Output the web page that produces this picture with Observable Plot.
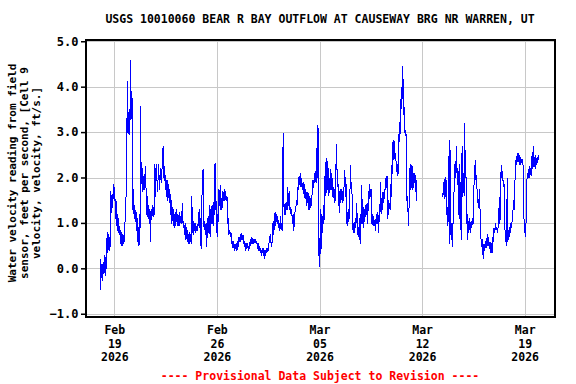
<!DOCTYPE html>
<html><head><meta charset="utf-8">
<script src="https://cdn.jsdelivr.net/npm/d3@7"></script>
<script src="https://cdn.jsdelivr.net/npm/@observablehq/plot@0.6"></script>
<style>
html,body{margin:0;padding:0;background:#fff;}
#chart{width:576px;height:384px;}
</style></head><body><div id="chart"></div>
<script>
const title = "USGS 10010060 BEAR R BAY OUTFLOW AT CAUSEWAY BRG NR WARREN, UT";
const yLabelLines = ["Water velocity reading from field", "sensor, feet per second, [Cell 9", "velocity, velocity, ft/s.]"];
const caption = "---- Provisional Data Subject to Revision ----";
const startTime = "2026-02-18T00:00:00Z";
const xDomain = ["2026-02-17", "2026-03-21"];
const xTicks = ["2026-02-19", "2026-02-26", "2026-03-05", "2026-03-12", "2026-03-19"];
const yDomain = [-1.05, 5.05];
const yTicks = [-1, 0, 1, 2, 3, 4, 5];

// hours since startTime
const hours = [
0.5,1.0,1.6,2.7,3.7,4.8,6.0,7.0,8.1,9.2,10.3,11.4,12.4,13.5,14.6,15.7,16.8,17.3,18.4,19.5,20.6,21.7,22.8,23.9,25.0,26.0,27.1,28.2,29.3,30.4,31.5,32.6,33.6,34.7,35.8,36.9,38.0,39.1,40.2,41.3,42.2,43.0,43.6,44.5,45.0,45.6,46.5,47.3,48.2,48.8,49.6,50.2,51.0,51.6,52.2,52.8,53.6,54.6,55.6,56.6,57.6,58.6,59.6,60.6,61.6,62.6,63.6,64.6,65.5,66.3,67.0,67.8,68.8,69.8,70.8,71.8,72.8,73.8,74.8,75.8,76.8,77.8,78.8,79.8,80.8,81.6,82.6,83.6,84.6,85.6,86.6,87.6,88.6,89.6,90.6,91.6,94.0,95.7,97.3,98.9,100.6,102.2,103.3,104.4,105.5,106.6,107.6,108.7,109.8,110.9,112.0,113.1,114.2,115.3,116.3,117.4,118.5,119.6,120.7,121.8,122.9,124.0,125.0,126.1,127.2,128.3,129.4,130.5,131.6,132.7,133.7,134.8,135.9,137.0,138.1,139.2,140.3,141.4,142.4,143.5,144.6,145.7,146.8,147.9,149.0,150.1,151.2,152.2,153.3,154.4,155.5,156.6,157.7,158.8,159.9,161.0,162.0,163.1,164.2,165.3,166.4,167.5,168.5,169.1,170.2,171.3,172.4,173.4,174.5,175.6,176.7,177.8,178.9,180.0,181.0,182.1,183.2,184.3,185.4,186.5,187.6,188.1,188.6,189.7,190.8,191.9,192.4,193.5,194.6,195.7,196.8,197.9,199.0,200.1,201.1,202.2,203.3,204.4,205.5,206.6,207.7,208.8,209.9,210.9,212.0,213.1,214.2,215.3,216.4,217.5,218.6,219.6,220.7,221.8,222.9,224.0,225.1,226.2,227.3,228.4,229.4,230.5,231.6,232.7,233.8,234.9,236.0,237.0,238.1,239.2,240.3,241.4,242.5,243.6,244.7,245.7,246.8,247.9,249.0,250.1,251.2,252.3,253.4,254.5,255.5,256.6,257.7,258.8,259.9,261.0,262.1,263.2,264.3,265.3,266.4,267.5,268.6,269.7,270.8,271.9,273.0,274.0,275.1,276.2,277.3,278.4,279.5,281.1,282.2,283.2,284.3,285.4,286.5,287.6,288.7,289.8,290.9,291.9,293.0,294.1,295.2,296.3,297.4,298.5,299.6,300.1,300.6,301.7,302.8,303.9,305.0,306.1,307.2,308.3,309.4,310.4,311.5,312.6,313.7,314.8,315.9,317.0,318.1,319.1,320.2,321.3,322.4,323.5,324.6,325.7,326.8,327.8,328.9,330.0,331.1,332.2,333.3,334.4,335.5,336.5,337.6,338.7,339.8,340.9,342.0,343.1,344.2,345.2,346.3,347.4,348.5,349.6,350.7,351.8,352.9,353.9,355.0,356.1,356.7,357.2,357.7,358.3,358.8,359.4,359.9,361.0,362.1,363.2,364.3,365.4,366.4,367.5,368.6,369.7,370.8,371.4,372.4,373.5,374.6,375.7,376.8,377.8,378.9,380.0,381.1,382.2,383.3,384.4,384.9,386.0,387.1,388.2,389.2,389.8,390.9,392.0,393.1,394.2,395.2,396.3,397.4,398.5,399.6,400.7,401.8,402.9,403.4,404.5,405.6,406.7,407.8,408.8,409.9,411.0,412.1,413.2,414.3,415.4,416.5,417.6,418.6,419.7,420.3,421.4,422.4,423.5,424.6,425.7,426.8,427.9,428.4,429.5,430.6,431.7,432.8,433.9,435.0,436.0,437.1,438.2,439.3,440.4,441.5,442.6,443.7,444.8,445.8,446.9,448.0,449.1,450.2,451.3,452.4,453.4,454.5,455.6,456.7,457.8,458.9,460.0,461.0,462.1,463.2,464.3,465.4,466.5,467.6,468.7,469.8,470.4,471.5,472.5,473.6,474.7,475.8,476.9,478.0,479.1,479.6,480.7,481.8,482.9,484.0,485.1,486.1,487.2,488.3,489.4,490.5,491.6,492.1,493.2,494.3,494.8,495.4,495.9,497.0,498.1,499.2,500.3,501.4,501.9,502.5,503.5,504.6,505.2,505.7,506.8,507.9,509.0,510.1,511.2,512.2,513.3,514.4,515.5,516.6,517.7,518.2,
540,
561.2,562.2,563.3,564.4,565.0,566.0,566.6,567.1,568.2,569.3,570.4,571.5,572.0,573.1,573.7,574.8,575.8,576.9,578.0,579.1,580.2,581.3,582.4,583.5,584.5,585.6,586.7,587.8,588.9,590.0,591.1,592.2,592.7,593.8,594.9,596.0,596.5,597.6,598.7,599.8,600.9,602.0,603.0,604.1,605.2,606.3,607.4,608.5,609.6,610.6,611.7,612.8,613.9,614.4,615.5,616.6,617.7,618.8,619.9,621.0,622.1,623.2,624.2,625.3,626.4,627.5,628.6,629.7,630.8,631.9,633.0,634.0,635.1,636.2,637.3,638.4,639.5,640.6,641.7,642.7,643.8,644.9,646.0,647.1,648.2,649.3,650.4,651.5,652.5,653.6,654.7,656.3,656.8,657.9,659.0,660.1,661.2,662.3,663.4,664.4,665.5,666.6,667.2,668.3,669.3,670.4,671.5,672.6,673.7,674.8,675.9,676.9,678.0,679.1,680.2,681.3,682.4,683.5,684.6,685.7,686.7,687.8,688.9,690.0,691.1,692.2,693.3,693.8,694.9,696.0,697.1,698.2,699.3,700.3,701.4,702.5,703.6,704.7,705.8,706.9,708.0,709.1,710.1,711.2,712.3,713.4,714.5,715.6,716.7,717.7
];

// water velocity, ft/s
const velocity = [
-0.45,0.2,-0.2,0.1,-0.25,0.15,-0.1,0.3,-0.15,0.25,0.0,0.8,0.35,0.75,0.4,0.7,0.5,1.7,1.25,1.65,1.35,1.85,1.5,1.8,1.1,1.5,0.95,1.2,0.8,1.1,0.75,0.85,0.55,0.8,0.5,0.75,0.55,0.75,0.6,1.55,1.2,3.3,2.7,3.4,4.12,3.0,3.45,2.95,3.5,3.1,4.58,3.6,3.9,3.3,3.75,1.6,1.3,1.75,1.1,1.4,1.05,1.3,0.85,1.1,0.6,0.9,0.5,1.2,0.9,3.57,2.0,2.35,1.7,2.2,1.75,2.05,1.75,2.25,1.8,1.7,1.15,1.6,1.1,1.4,1.0,1.3,0.6,1.3,1.1,1.4,1.15,1.35,1.2,2.3,1.6,2.3,1.7,2.3,1.75,2.2,1.9,2.6,2.69,2.0,2.25,1.75,2.05,1.6,1.95,1.5,1.85,1.45,1.75,1.2,1.5,1.0,1.35,0.95,1.3,0.9,1.25,0.95,1.3,0.95,1.2,0.95,1.25,0.95,1.15,1.0,1.2,1.43,0.9,1.05,0.75,1.0,0.65,0.9,0.6,0.85,0.55,0.8,0.55,0.75,0.55,1.6,0.8,1.05,0.75,1.0,0.8,1.0,0.85,0.95,0.85,1.25,0.9,1.3,0.85,0.45,1.45,1.9,2.2,1.5,0.85,1.05,0.75,1.0,0.5,0.9,1.15,0.8,1.4,0.7,1.3,1.0,1.4,1.0,0.95,1.5,1.2,2.32,1.3,1.5,0.8,1.2,0.7,1.3,1.75,1.4,1.84,1.3,1.55,1.35,1.7,1.5,1.75,1.5,1.7,1.5,1.6,1.0,1.1,0.75,0.85,0.7,0.8,0.55,0.6,0.45,0.6,0.4,0.55,0.45,0.55,0.4,0.6,0.5,0.7,0.6,0.75,0.6,0.78,0.65,0.75,0.6,0.5,0.6,0.4,0.55,0.45,0.55,0.4,0.5,0.45,0.65,0.5,0.7,0.55,0.68,0.55,0.65,0.58,0.65,0.55,0.6,0.45,0.55,0.4,0.5,0.35,0.45,0.3,0.45,0.35,0.45,0.22,0.4,0.3,0.45,0.35,0.45,0.4,0.55,0.65,0.75,0.6,0.48,0.75,1.05,0.75,1.05,1.25,0.95,1.2,1.0,1.15,0.9,1.0,0.85,1.15,0.85,1.0,0.85,2.98,2.9,1.5,1.2,1.45,1.2,1.45,1.3,1.8,1.4,1.7,1.3,1.35,1.2,1.3,1.0,1.2,0.85,1.05,1.25,1.3,1.5,1.4,1.8,1.75,2.05,1.85,2.1,1.8,2.0,1.75,1.9,1.65,1.85,1.55,1.75,1.4,1.7,1.45,1.65,1.3,1.6,1.35,1.55,1.4,1.8,1.95,1.8,2.1,1.9,2.15,1.9,2.65,2.0,3.16,2.0,0.3,0.8,0.04,0.6,0.2,1.3,0.45,1.2,0.8,1.4,1.0,1.5,2.35,1.6,2.1,2.43,1.75,2.2,1.6,2.0,1.75,2.2,1.75,2.0,1.6,1.8,1.45,1.75,1.5,2.2,2.74,1.9,2.2,1.4,1.85,1.25,1.75,1.45,1.75,1.45,1.7,1.5,1.9,2.17,1.6,1.85,1.0,1.25,0.95,1.3,1.1,1.5,2.28,1.7,1.9,1.0,0.8,1.0,0.8,1.1,0.9,1.2,1.43,0.75,0.92,0.7,1.1,0.55,1.2,1.0,1.84,1.0,1.35,0.9,1.3,1.15,1.4,1.2,1.45,1.0,1.7,1.55,1.85,1.6,1.75,1.0,1.2,0.95,1.15,0.95,1.1,0.85,1.2,1.0,1.25,0.8,1.2,1.05,1.91,1.2,1.55,1.3,1.7,1.45,1.65,1.75,2.0,1.8,2.05,1.1,1.5,1.2,1.45,1.3,1.85,1.6,2.32,2.1,2.83,2.4,2.8,2.4,2.55,2.15,2.3,2.05,2.15,2.98,2.8,3.72,2.98,4.0,3.8,4.45,3.75,4.2,3.4,3.55,3.0,3.05,2.8,2.95,1.45,1.6,1.0,0.96,1.3,2.2,1.75,2.3,1.8,2.25,1.75,2.1,1.9,2.1,1.7,1.95,1.5,
NaN,
1.6,1.9,1.55,1.95,2.02,1.6,1.95,1.2,1.35,0.95,1.25,2.83,0.55,2.6,1.0,0.65,1.0,0.5,1.1,1.4,2.3,2.0,2.25,2.69,2.0,2.2,1.2,2.3,1.1,1.9,0.65,2.2,2.69,1.6,2.1,1.6,3.2,2.0,2.6,1.0,1.2,0.65,1.05,0.85,1.1,0.8,1.05,0.9,1.1,1.0,1.62,2.1,2.3,2.39,1.95,2.05,1.45,1.5,1.35,1.75,1.3,0.8,0.5,0.65,0.4,0.22,0.55,0.4,0.6,0.45,0.6,0.75,0.5,0.7,0.45,0.6,0.35,0.55,0.35,0.7,0.6,0.9,0.8,1.0,0.85,0.9,0.8,0.9,1.0,1.58,1.0,2.1,2.28,2.0,2.15,1.8,1.95,1.3,0.6,0.85,0.52,1.99,0.6,0.85,0.65,0.9,0.8,1.0,0.9,1.1,1.25,1.5,1.3,1.9,2.2,2.47,2.3,2.55,2.35,2.55,2.3,2.45,2.3,2.4,2.3,2.4,1.9,1.2,0.8,1.0,0.7,1.95,2.0,2.1,2.0,2.25,2.0,2.2,2.05,2.47,2.2,2.69,2.25,2.45,2.2,2.5,2.3,2.45,2.35,2.5
];

const t0 = new Date(startTime).getTime();
const n = Math.min(hours.length, velocity.length);
const data = [];
for (let i = 0; i < n; i++) data.push({date: new Date(t0 + hours[i] * 3600000), v: velocity[i]});
const toDate = s => new Date(s + "T00:00:00Z");
const xTickDates = xTicks.map(toDate);
const fmtX = d => `${d3.utcFormat("%b")(d)}\n${d3.utcFormat("%d")(d)}\n${d3.utcFormat("%Y")(d)}`;
const font = "'DejaVu Sans Mono', 'Liberation Mono', monospace";

const chart = Plot.plot({
  width: 576, height: 384,
  marginLeft: 85, marginRight: 22, marginTop: 39, marginBottom: 68,
  style: {fontFamily: font, fontSize: "11.5px", fontWeight: "bold", background: "#fff", color: "#000"},
  x: {type: "utc", domain: xDomain.map(toDate)},
  y: {domain: yDomain},
  marks: [
    Plot.gridX(xTickDates, {stroke: "#c8c8c8", strokeOpacity: 1, strokeWidth: 1, shapeRendering: "crispEdges"}),
    Plot.gridY(yTicks, {stroke: "#c8c8c8", strokeOpacity: 1, strokeWidth: 1, shapeRendering: "crispEdges"}),
    Plot.line(data, {x: "date", y: "v", stroke: "#0000ff", strokeWidth: 1, shapeRendering: "crispEdges"}),
    Plot.frame({stroke: "#000", strokeWidth: 2, shapeRendering: "crispEdges"}),
    Plot.axisY(yTicks, {tickSize: 4, tickPadding: 3, tickFormat: d3.format(".1f"), label: null, fontSize: 12, strokeWidth: 1.5}),
    Plot.axisX(xTickDates, {tickSize: 0, tickPadding: 8, tickFormat: fmtX, label: null, lineHeight: 1.17, fontSize: 11.5}),
    Plot.text([title], {frameAnchor: "top", dy: -20, lineAnchor: "middle", fontSize: 11.5, fill: "#000"}),
    Plot.text([yLabelLines.join("\n")], {frameAnchor: "left", rotate: -90, dx: -61, dy: -5, lineAnchor: "middle", textAnchor: "middle", lineHeight: 1.09, fontSize: 11, fill: "#000"}),
    Plot.text([caption], {frameAnchor: "bottom", dy: 60, lineAnchor: "middle", fontSize: 11.5, fill: "#ff0000"})
  ]
});
document.getElementById("chart").appendChild(chart);
</script>
</body></html>
